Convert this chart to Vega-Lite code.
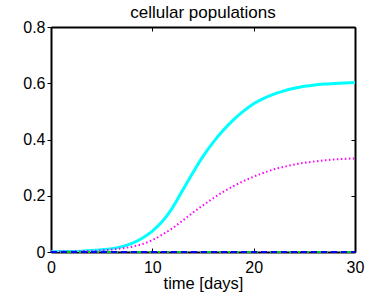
{
  "$schema": "https://vega.github.io/schema/vega-lite/v6.json",
  "width": 304,
  "height": 225,
  "padding": {"left": 51, "top": 27, "right": 37, "bottom": 43},
  "autosize": {"type": "none"},
  "background": "white",
  "title": {"text": "cellular populations", "fontSize": 17, "fontWeight": "normal", "font": "Liberation Sans", "color": "black", "offset": -3},
  "config": {
    "view": {"stroke": null},
    "axis": {"labelFont": "Liberation Sans", "labelFontSize": 16, "labelColor": "black", "labelFlush": false, "titleFont": "Liberation Sans", "titleFontSize": 16.5, "titleFontWeight": "normal", "titleColor": "black", "domainColor": "black", "domainWidth": 2, "tickColor": "black", "tickWidth": 1, "grid": false}
  },
  "datasets": {
    "curves": [
      {"t": 0, "cyan": 0.001, "magenta": 0.001},
      {"t": 1, "cyan": 0.0015, "magenta": 0.0015},
      {"t": 2, "cyan": 0.002, "magenta": 0.002},
      {"t": 3, "cyan": 0.003, "magenta": 0.003},
      {"t": 4, "cyan": 0.005, "magenta": 0.004},
      {"t": 5, "cyan": 0.008, "magenta": 0.006},
      {"t": 6, "cyan": 0.012, "magenta": 0.009},
      {"t": 7, "cyan": 0.019, "magenta": 0.013},
      {"t": 8, "cyan": 0.031, "magenta": 0.019},
      {"t": 9, "cyan": 0.049, "magenta": 0.028},
      {"t": 10, "cyan": 0.074, "magenta": 0.042},
      {"t": 11, "cyan": 0.109, "magenta": 0.062},
      {"t": 12, "cyan": 0.158, "magenta": 0.085},
      {"t": 13, "cyan": 0.220, "magenta": 0.112},
      {"t": 14, "cyan": 0.282, "magenta": 0.140},
      {"t": 15, "cyan": 0.340, "magenta": 0.166},
      {"t": 16, "cyan": 0.390, "magenta": 0.191},
      {"t": 17, "cyan": 0.433, "magenta": 0.214},
      {"t": 18, "cyan": 0.470, "magenta": 0.234},
      {"t": 19, "cyan": 0.501, "magenta": 0.252},
      {"t": 20, "cyan": 0.527, "magenta": 0.268},
      {"t": 21, "cyan": 0.546, "magenta": 0.282},
      {"t": 22, "cyan": 0.561, "magenta": 0.294},
      {"t": 23, "cyan": 0.573, "magenta": 0.303},
      {"t": 24, "cyan": 0.582, "magenta": 0.311},
      {"t": 25, "cyan": 0.589, "magenta": 0.317},
      {"t": 26, "cyan": 0.594, "magenta": 0.322},
      {"t": 27, "cyan": 0.597, "magenta": 0.326},
      {"t": 28, "cyan": 0.599, "magenta": 0.329},
      {"t": 29, "cyan": 0.601, "magenta": 0.331},
      {"t": 30, "cyan": 0.603, "magenta": 0.333}
    ],
    "zeros": [
      {"t": 0, "series": "green", "v": 0},
      {"t": 30, "series": "green", "v": 0},
      {"t": 0, "series": "blue", "v": 0},
      {"t": 30, "series": "blue", "v": 0}
    ]
  },
  "resolve": {"axis": {"x": "independent", "y": "independent"}},
  "layer": [
    {
      "data": {"name": "curves"},
      "mark": {"type": "line", "stroke": "#00FFFF", "strokeWidth": 3, "interpolate": "monotone", "clip": true},
      "encoding": {
        "x": {"field": "t", "type": "quantitative", "scale": {"domain": [0, 30], "nice": false}, "axis": {"orient": "bottom", "values": [0, 10, 20, 30], "title": "time [days]", "tickSize": -4, "labelPadding": 11, "titlePadding": 0}},
        "y": {"field": "cyan", "type": "quantitative", "scale": {"domain": [0, 0.8], "nice": false}, "axis": {"orient": "left", "values": [0, 0.2, 0.4, 0.6, 0.8], "title": null, "tickSize": 4, "labelPadding": 2, "format": "~g"}}
      }
    },
    {
      "data": {"name": "curves"},
      "mark": {"type": "line", "stroke": "#FF00FF", "strokeWidth": 2, "strokeDash": [1.5, 2.5], "interpolate": "monotone", "clip": true},
      "encoding": {
        "x": {"field": "t", "type": "quantitative", "axis": {"orient": "top", "values": [0, 10, 20, 30], "labels": false, "title": null, "tickSize": -4}},
        "y": {"field": "magenta", "type": "quantitative", "axis": {"orient": "right", "values": [0, 0.2, 0.4, 0.6, 0.8], "labels": false, "title": null, "tickSize": -4}}
      }
    },
    {
      "data": {"name": "zeros"},
      "mark": {"type": "line", "strokeWidth": 2},
      "encoding": {
        "x": {"field": "t", "type": "quantitative", "axis": null},
        "y": {"field": "v", "type": "quantitative", "axis": null},
        "detail": {"field": "series"},
        "color": {"field": "series", "type": "nominal", "scale": {"domain": ["green", "blue"], "range": ["#00CC00", "#0000FF"]}, "legend": null},
        "strokeDash": {"field": "series", "type": "nominal", "scale": {"domain": ["green", "blue"], "range": [[6, 3, 2, 3], [6, 4]]}, "legend": null},
        "order": {"field": "series", "sort": "descending"}
      }
    }
  ]
}
